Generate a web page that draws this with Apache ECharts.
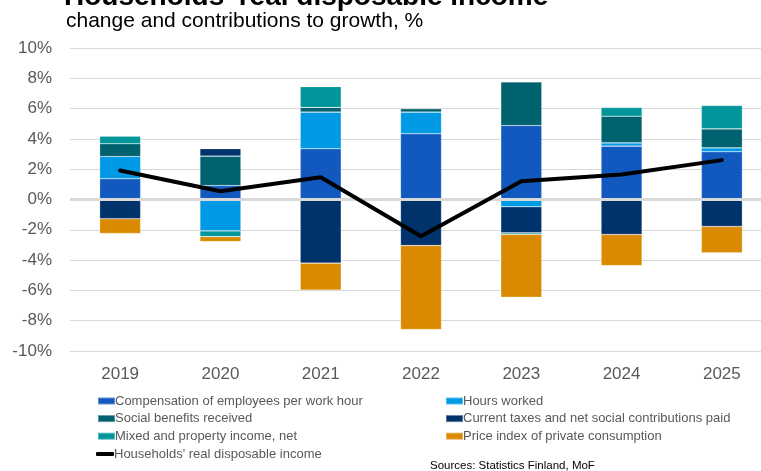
<!DOCTYPE html>
<html>
<head>
<meta charset="utf-8">
<script src="https://cdn.jsdelivr.net/npm/echarts@6/dist/echarts.min.js"></script>
<style>
  html, body { margin: 0; padding: 0; background: #fff; }
  #chart { width: 761px; height: 471px; }
</style>
</head>
<body>
<div id="chart"></div>
<script>
// Contributions to the change in households' real disposable income, percentage points
const years = ['2019', '2020', '2021', '2022', '2023', '2024', '2025'];
const compensation = [1.37, 0.92, 3.35, 4.34, 4.88, 3.52, 3.15];
const hoursWorked = [1.47, -2.07, 2.42, 1.43, -0.48, 0.22, 0.26];
const socialBenefits = [0.84, 1.94, 0.31, 0.22, 2.88, 1.76, 1.25];
const taxesPaid = [-1.27, 0.5, -4.2, -3.04, -1.72, -2.31, -1.78];
const mixedIncome = [0.5, -0.38, 1.37, 0, -0.11, 0.57, 1.54];
const priceIndex = [-0.97, -0.33, -1.78, -5.54, -4.14, -2.05, -1.74];
const realIncome = [1.91, 0.55, 1.47, -2.42, 1.21, 1.65, 2.6];

const FONT = '"Liberation Sans", Arial, sans-serif';
const GREY = '#595959';

const barNames = [
  'Compensation of employees per work hour',
  'Hours worked',
  'Social benefits received',
  'Current taxes and net social contributions paid',
  'Mixed and property income, net',
  'Price index of private consumption'
];
const barData = [compensation, hoursWorked, socialBenefits, taxesPaid, mixedIncome, priceIndex];
const barColors = ['#1259BF', '#0099E6', '#00626F', '#00336B', '#00969A', '#DA8A00'];
const lineName = "Households' real disposable income";

const barSeries = barNames.map((name, i) => ({
  name: name,
  type: 'bar',
  stack: 'contrib',
  barWidth: 41,
  data: barData[i],
  itemStyle: { color: barColors[i], borderColor: 'rgba(255,255,255,0.35)', borderWidth: 0.6 },
  z: 2
}));

// Zero line drawn over the stacked bars
barSeries[0].markLine = {
  silent: true,
  symbol: 'none',
  label: { show: false },
  lineStyle: { color: '#d9d9d9', width: 3, type: 'solid' },
  data: [{ yAxis: 0 }],
  z: 3
};

const legendBase = {
  orient: 'vertical',
  itemWidth: 17,
  itemHeight: 7,
  itemGap: 3.6,
  icon: 'rect',
  textStyle: { fontFamily: FONT, fontSize: 13, color: GREY, padding: [0, 0, 0, -5], lineHeight: 14 }
};

const chart = echarts.init(document.getElementById('chart'), null, { renderer: 'canvas' });
chart.setOption({
  animation: false,
  backgroundColor: '#ffffff',
  title: [
    {
      text: "Households' real disposable income",
      left: 59,
      top: -22,
      textStyle: { fontFamily: FONT, fontSize: 28, fontWeight: 'bold', color: '#000' }
    },
    {
      text: 'change and contributions to growth, %',
      left: 61,
      top: 6,
      textStyle: { fontFamily: FONT, fontSize: 21, fontWeight: 'normal', color: '#000' }
    }
  ],
  // The plot runs past the right edge of the canvas
  grid: { left: 70, top: 48, width: 702, height: 303, outerBoundsMode: 'none', containLabel: false },
  xAxis: {
    type: 'category',
    data: years,
    axisLine: { onZero: false, show: true, lineStyle: { color: '#d9d9d9', width: 1 } },
    axisTick: { show: false },
    axisLabel: { fontFamily: FONT, fontSize: 17, color: GREY, margin: 15 }
  },
  yAxis: {
    type: 'value',
    min: -10,
    max: 10,
    interval: 2,
    axisLine: { show: false },
    axisTick: { show: false },
    splitLine: { lineStyle: { color: '#d9d9d9', width: 1 } },
    axisLabel: { fontFamily: FONT, fontSize: 17, color: GREY, margin: 18, formatter: '{value}%' }
  },
  legend: [
    Object.assign({}, legendBase, {
      left: 92, top: 389,
      data: [barNames[0], barNames[2], barNames[4]]
    }),
    Object.assign({}, legendBase, {
      left: 440, top: 389,
      data: [barNames[1], barNames[3], barNames[5]]
    }),
    Object.assign({}, legendBase, {
      left: 91, top: 442,
      itemWidth: 18,
      itemHeight: 4,
      icon: 'roundRect',
      data: [{ name: lineName, icon: 'roundRect' }]
    })
  ],
  graphic: [
    {
      type: 'text',
      left: 430,
      top: 460,
      style: { text: 'Sources: Statistics Finland, MoF', fontFamily: FONT, fontSize: 11.5, fill: '#000' }
    }
  ],
  series: barSeries.concat([
    {
      name: lineName,
      type: 'line',
      data: realIncome,
      symbol: 'none',
      lineStyle: { color: '#000', width: 4, cap: 'round', join: 'round' },
      itemStyle: { color: '#000' },
      z: 5
    }
  ])
});
</script>
</body>
</html>
